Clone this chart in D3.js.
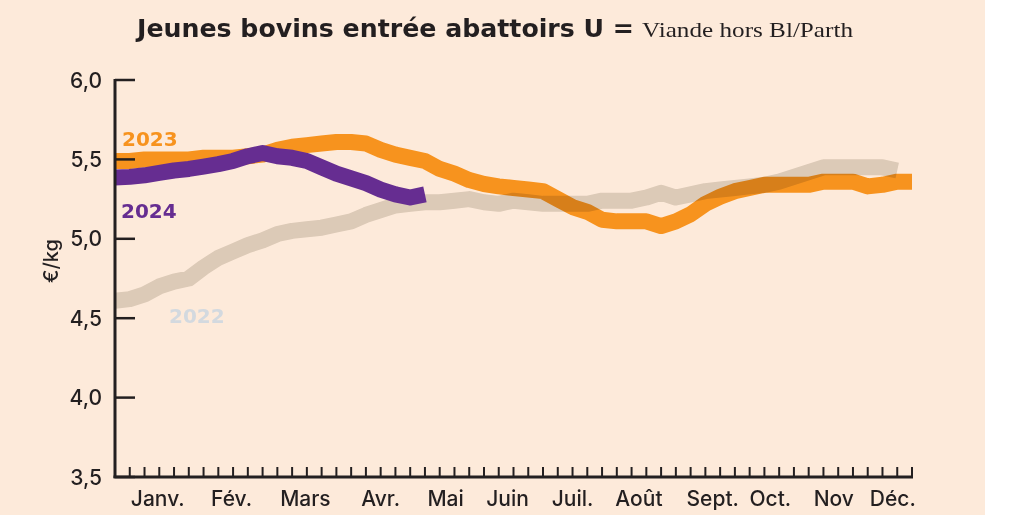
<!DOCTYPE html>
<html>
<head>
<meta charset="utf-8">
<script src="https://cdn.jsdelivr.net/npm/d3@7"></script>
<style>
  html, body { margin: 0; padding: 0; background: #fff; }
  .chart-container { width: 1011px; height: 515px; }
  text { fill: #231f20; }
</style>
</head>
<body>
<script>
// weekly prices, €/kg (index = week on the axis)
const values2022 = [4.61, 4.62, 4.65, 4.70, 4.73, 4.75, 4.82, 4.88, 4.92, 4.96, 4.99, 5.03, 5.05, 5.06, 5.07,
  5.09, 5.11, 5.15, 5.18, 5.21, 5.22, 5.23, 5.23, 5.24, 5.25, 5.23, 5.22, 5.24, 5.23, 5.22, 5.22, 5.22, 5.22,
  5.24, 5.24, 5.24, 5.26, 5.29, 5.26, 5.28, 5.30, 5.31, 5.32, 5.33, 5.34, 5.36, 5.39, 5.42, 5.45, 5.45, 5.45,
  5.45, 5.45, 5.43];
const values2023 = [5.49, 5.49, 5.50, 5.50, 5.50, 5.50, 5.51, 5.51, 5.51, 5.52, 5.53, 5.56, 5.58, 5.59, 5.60,
  5.61, 5.61, 5.60, 5.56, 5.53, 5.51, 5.49, 5.44, 5.41, 5.37, 5.345, 5.33, 5.32, 5.31, 5.30, 5.25, 5.20, 5.17,
  5.12, 5.11, 5.11, 5.11, 5.08, 5.11, 5.155, 5.22, 5.265, 5.30, 5.32, 5.34, 5.34, 5.34, 5.34, 5.36, 5.36, 5.36,
  5.33, 5.34, 5.36, 5.36];
const values2024 = [5.386, 5.39, 5.40, 5.415, 5.43, 5.44, 5.455, 5.47, 5.49, 5.52, 5.54, 5.52, 5.51, 5.49,
  5.45, 5.41, 5.38, 5.35, 5.31, 5.28, 5.26, 5.28];

const yTicks = [3.5, 4.0, 4.5, 5.0, 5.5, 6.0];
const months = ['Janv.', 'Fév.', 'Mars', 'Avr.', 'Mai', 'Juin', 'Juil.', 'Août', 'Sept.', 'Oct.', 'Nov', 'Déc.'];
const monthWeeks = [2.9, 7.9, 12.9, 18.0, 22.4, 26.6, 31.0, 35.5, 40.5, 44.4, 48.7, 52.7];
const weekTicks = d3.range(1, 55);

const series = [
  { name: '2023', values: values2023, color: '#f7931e', blend: 'normal' },
  { name: '2022', values: values2022, color: '#dedcd6', blend: 'multiply' },
  { name: '2024', values: values2024, color: '#662d91', blend: 'normal' }
];

const container = d3.select('body').append('div').attr('class', 'chart-container');

const sans = 'Inter, "DejaVu Sans", sans-serif';

let svg, x, y;

function build() {
  container.selectAll('*').remove();

  svg = container.append('svg')
    .attr('width', 1011)
    .attr('height', 515);

  svg.append('rect')
    .attr('width', 985)
    .attr('height', 515)
    .attr('fill', '#fdeada');

  // title
  svg.append('text')
    .attr('x', 137).attr('y', 37)
    .style('font-size', '25px').style('font-weight', 'bold')
    .style('font-family', '"DejaVu Sans Condensed", "DejaVu Sans", sans-serif')
    .attr('textLength', 497).attr('lengthAdjust', 'spacingAndGlyphs')
    .text('Jeunes bovins entrée abattoirs U =');
  svg.append('text')
    .attr('x', 642).attr('y', 37)
    .style('font-size', '22px')
    .style('font-family', '"Liberation Serif", "DejaVu Serif", serif')
    .attr('textLength', 211).attr('lengthAdjust', 'spacingAndGlyphs')
    .text('Viande hors Bl/Parth');

  // lines
  const line = d3.line()
    .x((d, i) => x(i))
    .y(d => y(d));

  svg.append('g')
    .attr('class', 'lines')
    .selectAll('path')
    .data(series)
    .enter()
    .append('path')
    .attr('d', d => line(d.values))
    .attr('fill', 'none')
    .attr('stroke', d => d.color)
    .attr('stroke-width', 16)
    .attr('stroke-linejoin', 'round')
    .style('mix-blend-mode', d => d.blend);

  // y axis
  const yAxis = svg.append('g').attr('class', 'y-axis');
  yAxis.append('line')
    .attr('x1', x(0)).attr('x2', x(0))
    .attr('y1', y(6.0) - 1).attr('y2', y(3.5) + 1)
    .attr('stroke', '#231f20').attr('stroke-width', 3);
  yAxis.selectAll('.tick')
    .data(yTicks)
    .enter()
    .append('line')
    .attr('x1', x(0)).attr('x2', x(0) + 20)
    .attr('y1', d => y(d)).attr('y2', d => y(d))
    .attr('stroke', '#231f20').attr('stroke-width', 2.5);
  yAxis.selectAll('.label')
    .data(yTicks)
    .enter()
    .append('text')
    .attr('x', 102)
    .attr('y', d => y(d))
    .attr('dy', '0.36em')
    .attr('text-anchor', 'end')
    .style('font-family', sans).style('font-size', '21px').style('font-weight', 500)
    .text(d => d3.format('.1f')(d).replace('.', ','));
  yAxis.append('text')
    .attr('transform', 'translate(58,261) rotate(-90)')
    .attr('text-anchor', 'middle')
    .style('font-family', sans).style('font-size', '20px').style('font-weight', 500)
    .text('€/kg');

  // x axis
  const xAxis = svg.append('g').attr('class', 'x-axis');
  xAxis.append('line')
    .attr('x1', x(0) - 1.5).attr('x2', x(54) + 1)
    .attr('y1', y(3.5)).attr('y2', y(3.5))
    .attr('stroke', '#231f20').attr('stroke-width', 3);
  xAxis.selectAll('.tick')
    .data(weekTicks)
    .enter()
    .append('line')
    .attr('x1', d => x(d)).attr('x2', d => x(d))
    .attr('y1', y(3.5)).attr('y2', y(3.5) - 10)
    .attr('stroke', '#231f20').attr('stroke-width', 2);
  xAxis.selectAll('.label')
    .data(months)
    .enter()
    .append('text')
    .attr('x', (d, i) => x(monthWeeks[i]))
    .attr('y', 506)
    .attr('text-anchor', 'middle')
    .style('font-family', sans).style('font-size', '21px').style('font-weight', 500)
    .text(d => d);

  // series labels
  const labels = [
    { text: '2023', x: 122, y: 146, color: '#f7931e' },
    { text: '2024', x: 121, y: 218, color: '#662d91' },
    { text: '2022', x: 169, y: 323, color: '#d3d9df' }
  ];
  svg.append('g')
    .selectAll('text')
    .data(labels)
    .enter()
    .append('text')
    .attr('x', d => d.x)
    .attr('y', d => d.y)
    .style('font-family', '"DejaVu Sans", sans-serif')
    .style('font-size', '20px')
    .style('font-weight', 'bold')
    .style('fill', d => d.color)
    .text(d => d.text);
}

function setup() {
  x = d3.scaleLinear().domain([0, 54]).range([115, 912]);
  y = d3.scaleLinear().domain([3.5, 6.0]).range([477, 80]);
  build();
}

setup();
</script>
</body>
</html>
